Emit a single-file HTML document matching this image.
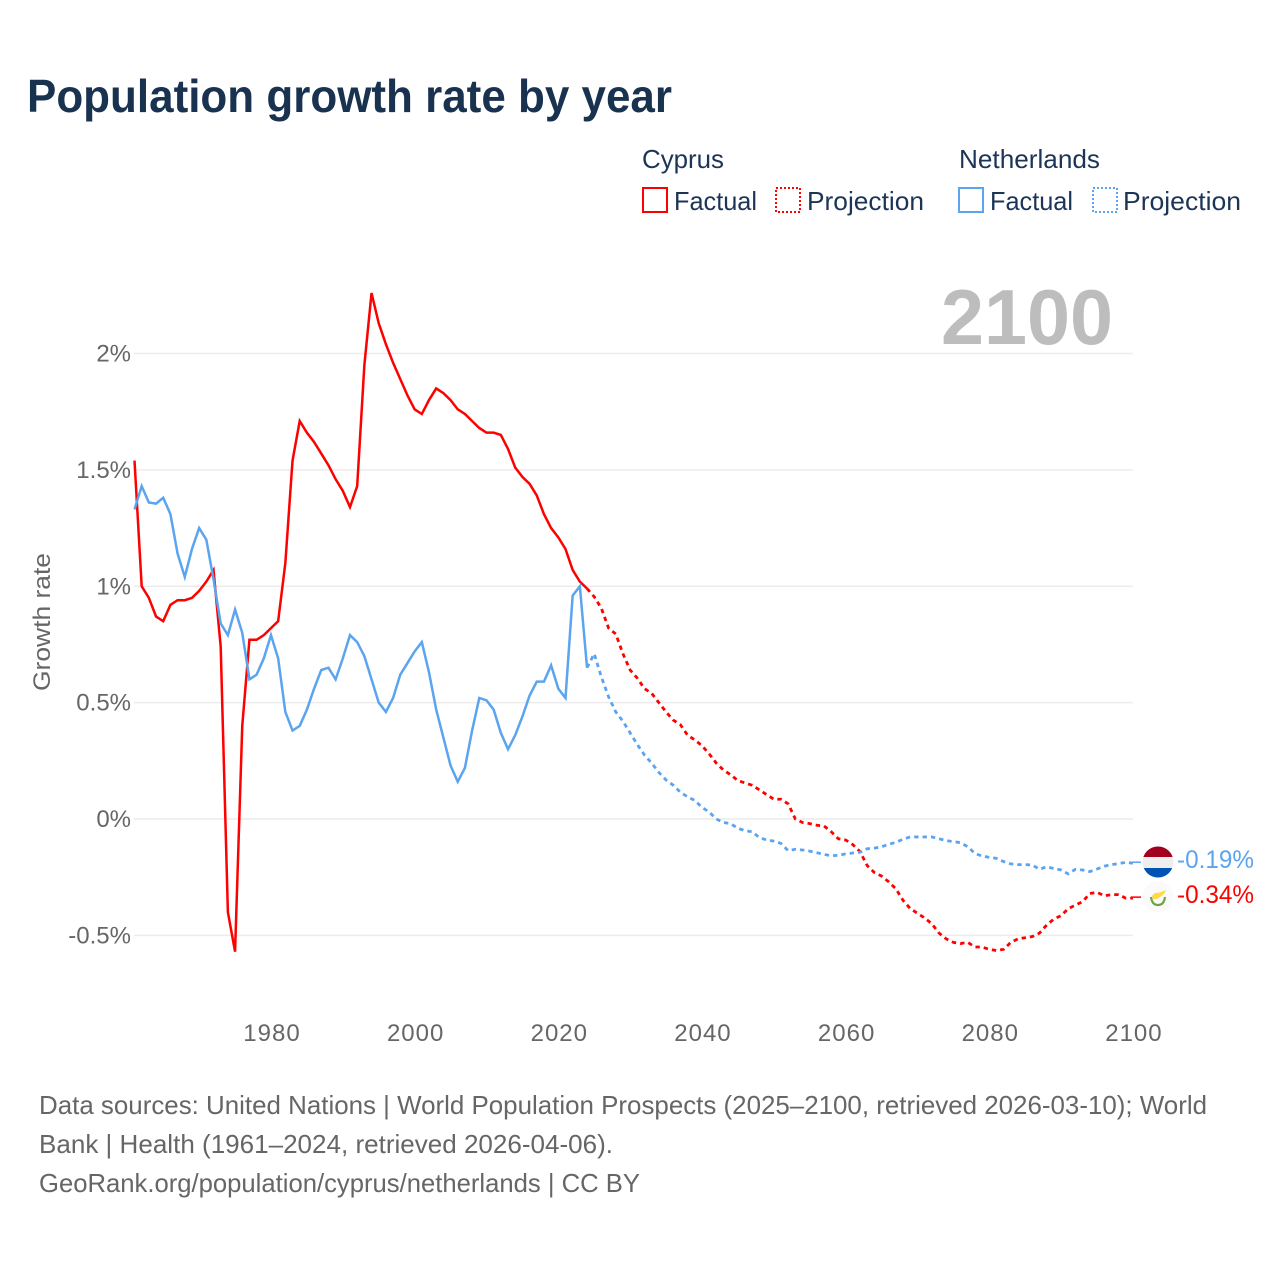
<!DOCTYPE html>
<html lang="en">
<head>
<meta charset="utf-8">
<title>Population growth rate by year</title>
<style>
html,body{margin:0;padding:0;background:#fff}
svg{display:block}
text{font-family:"Liberation Sans",Arial,sans-serif}
.legend{font-size:26px;fill:#1c3557}
.tick{font-size:24px;fill:#666}
.src{font-size:26px;fill:#666}
</style>
</head>
<body>
<svg id="chart" width="1280" height="1280" viewBox="0 0 1280 1280" xmlns="http://www.w3.org/2000/svg">
  <rect x="0" y="0" width="1280" height="1280" fill="#fff"/>
  <text x="27" y="112" font-size="46" font-weight="700" fill="#18324f" textLength="645" lengthAdjust="spacingAndGlyphs">Population growth rate by year</text>

  <g>
    <text class="legend" x="642" y="168" textLength="82" lengthAdjust="spacingAndGlyphs">Cyprus</text>
    <rect x="643" y="188" width="24" height="24" fill="none" stroke="#ff0000" stroke-width="2"/>
    <text class="legend" x="674" y="210" textLength="83" lengthAdjust="spacingAndGlyphs">Factual</text>
    <rect x="776" y="188" width="24" height="24" fill="none" stroke="#ff0000" stroke-width="2" stroke-dasharray="2 2"/>
    <text class="legend" x="807" y="210" textLength="117" lengthAdjust="spacingAndGlyphs">Projection</text>

    <text class="legend" x="959" y="168" textLength="141" lengthAdjust="spacingAndGlyphs">Netherlands</text>
    <rect x="959" y="188" width="24" height="24" fill="none" stroke="#5ba4ef" stroke-width="2"/>
    <text class="legend" x="990" y="210" textLength="83" lengthAdjust="spacingAndGlyphs">Factual</text>
    <rect x="1093" y="188" width="24" height="24" fill="none" stroke="#5ba4ef" stroke-width="2" stroke-dasharray="2 2"/>
    <text class="legend" x="1123" y="210" textLength="118" lengthAdjust="spacingAndGlyphs">Projection</text>
  </g>

  <g id="grid"></g>
  <text x="941" y="344" font-size="78" font-weight="700" fill="#bdbdbd" textLength="172" lengthAdjust="spacingAndGlyphs">2100</text>
  <g id="yticks"></g>
  <g id="xticks"></g>
  <text class="tick" transform="translate(50,622) rotate(-90)" text-anchor="middle" textLength="138" lengthAdjust="spacingAndGlyphs">Growth rate</text>
  <g id="series"></g>

  <g>
    <clipPath id="nl-clip"><circle cx="1158" cy="862" r="15.500"/></clipPath>
    <g clip-path="url(#nl-clip)">
      <rect x="1142" y="846" width="32" height="11" fill="#a2001d"/>
      <rect x="1142" y="857" width="32" height="11" fill="#eeeeee"/>
      <rect x="1142" y="868" width="32" height="11" fill="#0052b4"/>
    </g>
  </g>
  <g>
    <circle cx="1158" cy="897" r="15.500" fill="#fafafa"/>
    <path d="M1152 896 Q1155 892 1158 893 L1166 890 Q1164 895 1160 897 Q1156 900 1153 899 Z" fill="#ffda44"/>
    <path d="M1151 897 Q1152 905 1158 905 Q1164 905 1165 897" fill="none" stroke="#6da544" stroke-width="2.200"/>
  </g>
  <g id="endlabels"></g>

  <g>
    <text class="src" x="39" y="1114" textLength="1168" lengthAdjust="spacingAndGlyphs">Data sources: United Nations | World Population Prospects (2025–2100, retrieved 2026-03-10); World</text>
    <text class="src" x="39" y="1153" textLength="574" lengthAdjust="spacingAndGlyphs">Bank | Health (1961–2024, retrieved 2026-04-06).</text>
    <text class="src" x="39" y="1192" textLength="601" lengthAdjust="spacingAndGlyphs">GeoRank.org/population/cyprus/netherlands | CC BY</text>
  </g>
</svg>

<script>
// Chart data (growth rate, % per year)
const factualStartYear = 1961;
const projectionStartYear = 2025;
const yTickValues = [-0.5, 0, 0.5, 1, 1.5, 2];
const yTickLabels = ["-0.5%", "0%", "0.5%", "1%", "1.5%", "2%"];
const xTickYears = [1980, 2000, 2020, 2040, 2060, 2080, 2100];
const xTickLabels = ["1980", "2000", "2020", "2040", "2060", "2080", "2100"];

const cyprusFactual = [
  1.54, 1.00, 0.95, 0.87, 0.85, 0.92, 0.94, 0.94, 0.95, 0.98,
  1.02, 1.07, 0.74, -0.40, -0.57, 0.40, 0.77, 0.77, 0.79, 0.82,
  0.85, 1.10, 1.54, 1.71, 1.66, 1.62, 1.57, 1.52, 1.46, 1.41,
  1.34, 1.43, 1.95, 2.26, 2.13, 2.04, 1.96, 1.89, 1.82, 1.76,
  1.74, 1.80, 1.85, 1.83, 1.80, 1.76, 1.74, 1.71, 1.68, 1.66,
  1.66, 1.65, 1.59, 1.51, 1.47, 1.44, 1.39, 1.31, 1.25, 1.21,
  1.16, 1.07, 1.02, 0.99
];
const cyprusProjection = [
  0.955, 0.905, 0.82, 0.795, 0.71, 0.64, 0.605, 0.56, 0.54, 0.50,
  0.46, 0.425, 0.405, 0.36, 0.34, 0.315, 0.28, 0.24, 0.21, 0.19,
  0.165, 0.155, 0.145, 0.125, 0.105, 0.085, 0.085, 0.065, 0.00, -0.015,
  -0.02, -0.027, -0.03, -0.055, -0.085, -0.09, -0.11, -0.14, -0.20, -0.23,
  -0.245, -0.27, -0.30, -0.35, -0.385, -0.405, -0.425, -0.45, -0.49, -0.515,
  -0.53, -0.535, -0.53, -0.55, -0.55, -0.56, -0.565, -0.56, -0.53, -0.515,
  -0.51, -0.505, -0.49, -0.455, -0.43, -0.415, -0.385, -0.37, -0.355, -0.32,
  -0.315, -0.33, -0.325, -0.325, -0.34, -0.34
];
const netherlandsFactual = [
  1.33, 1.43, 1.36, 1.355, 1.38, 1.31, 1.14, 1.04, 1.16, 1.25,
  1.20, 1.03, 0.84, 0.79, 0.90, 0.80, 0.60, 0.62, 0.69, 0.79,
  0.69, 0.46, 0.38, 0.40, 0.47, 0.56, 0.64, 0.65, 0.60, 0.69,
  0.79, 0.76, 0.70, 0.60, 0.50, 0.46, 0.52, 0.62, 0.67, 0.72,
  0.76, 0.63, 0.47, 0.35, 0.23, 0.16, 0.22, 0.38, 0.52, 0.51,
  0.47, 0.37, 0.30, 0.36, 0.44, 0.53, 0.59, 0.59, 0.66, 0.56,
  0.52, 0.96, 1.00, 0.65
];
const netherlandsProjection = [
  0.71, 0.61, 0.525, 0.46, 0.42, 0.37, 0.32, 0.275, 0.24, 0.20,
  0.168, 0.145, 0.115, 0.095, 0.08, 0.05, 0.03, 0.00, -0.015, -0.02,
  -0.04, -0.05, -0.055, -0.08, -0.09, -0.095, -0.105, -0.136, -0.13, -0.133,
  -0.138, -0.145, -0.152, -0.158, -0.156, -0.15, -0.146, -0.143, -0.128, -0.125,
  -0.119, -0.109, -0.10, -0.087, -0.077, -0.077, -0.077, -0.077, -0.085, -0.093,
  -0.097, -0.102, -0.119, -0.148, -0.159, -0.165, -0.169, -0.183, -0.193, -0.196,
  -0.196, -0.198, -0.216, -0.205, -0.213, -0.219, -0.236, -0.216, -0.219, -0.226,
  -0.215, -0.203, -0.196, -0.192, -0.186, -0.19
];
const cyprusEndLabel = "-0.34%";
const netherlandsEndLabel = "-0.19%";

const NS = "http://www.w3.org/2000/svg";
function xScale(year) { return 134.5 + (year - 1961) * 7.183; }
function yScale(v) { return 819 - v * 232.75; }

function make(tag, parentId, attrs) {
  const el = document.createElementNS(NS, tag);
  for (const k in attrs) el.setAttribute(k, attrs[k]);
  document.getElementById(parentId).appendChild(el);
  return el;
}
function pointsFor(values, startYear) {
  return values.map(function (v, i) {
    return xScale(startYear + i).toFixed(2) + "," + yScale(v).toFixed(2);
  });
}

// Gridlines and y ticks
yTickValues.forEach(function (v, i) {
  const line = make("line", "grid", { x1: 134, x2: 1133, y1: yScale(v), y2: yScale(v), stroke: "#ececec", "stroke-width": 1.5 });
  
  
  const t = make("text", "yticks", { x: 131, y: yScale(v) + 8, "text-anchor": "end", "class": "tick" });
  
  
  t.textContent = yTickLabels[i];
});

// X ticks
xTickYears.forEach(function (yr, i) {
  const t = make("text", "xticks", { x: xScale(yr) + 1, y: 1041, "text-anchor": "middle", "class": "tick", "letter-spacing": 1 });
  
  
  t.textContent = xTickLabels[i];
});

// Series
function drawSeries(name, color, factual, projection, endLabel) {
  const factualLine = make("polyline", "series", {
    points: pointsFor(factual, factualStartYear).join(" "),
    fill: "none", stroke: color, "stroke-width": 2.5
  });
  
  

  const lastFactualPoint = pointsFor(factual, factualStartYear).slice(-1);
  const projLine = make("polyline", "series", {
    points: lastFactualPoint.concat(pointsFor(projection, projectionStartYear)).join(" "),
    fill: "none", stroke: color, "stroke-width": 2.8, "stroke-dasharray": "4.4 4"
  });
  
  

  const endY = yScale(projection[projection.length - 1]);
  const leader = make("line", "series", { x1: 1131, x2: 1141, y1: endY - 1, y2: endY - 1, stroke: color, "stroke-width": 1.5 });
  
  

  const label = make("text", "endlabels", { x: 1177, y: endY + 5, "font-size": 25, fill: color, textLength: 77, lengthAdjust: "spacingAndGlyphs" });
  
  
  label.textContent = endLabel;
}
drawSeries("cyprus", "#ff0000", cyprusFactual, cyprusProjection, cyprusEndLabel);
drawSeries("netherlands", "#5ba4ef", netherlandsFactual, netherlandsProjection, netherlandsEndLabel);
</script>
</body>
</html>
